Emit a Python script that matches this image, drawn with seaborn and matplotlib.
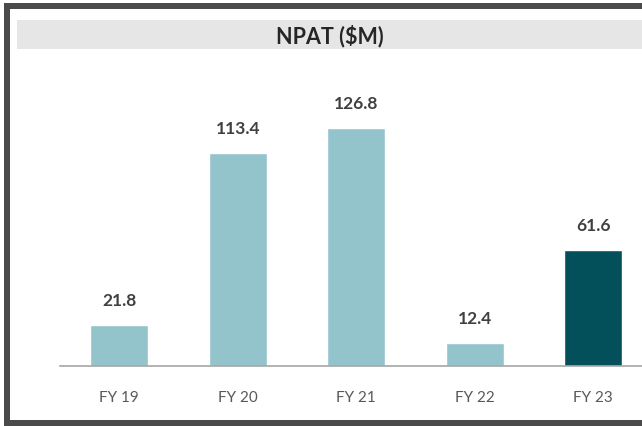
import matplotlib.pyplot as plt
import pandas as pd
import seaborn as sns
from matplotlib.patches import Rectangle

years = ['FY 19', 'FY 20', 'FY 21', 'FY 22', 'FY 23']
npat = [21.8, 113.4, 126.8, 12.4, 61.6]
bar_colors = ['#93C4CB', '#93C4CB', '#93C4CB', '#93C4CB', '#04505A']


def main() -> None:
    sns.set_style('white')
    plt.rcParams['font.family'] = ['Lato', 'DejaVu Sans']

    df = pd.DataFrame({'year': years, 'npat': npat})

    fig = plt.figure(figsize=(6.42, 4.27), dpi=100)
    fig.patch.set_facecolor('white')

    # frame around the panel (left, top, bottom)
    W, H = 642, 427
    frame = '#4A4A4A'
    fig.patches.append(Rectangle((4 / W, 0), 6 / W, 1 - 4 / H, transform=fig.transFigure,
                                 facecolor=frame, edgecolor='none', zorder=0))
    fig.patches.append(Rectangle((4 / W, 1 - 10 / H), 1, 6 / H, transform=fig.transFigure,
                                 facecolor=frame, edgecolor='none', zorder=0))
    fig.patches.append(Rectangle((4 / W, 0), 1, 6 / H, transform=fig.transFigure,
                                 facecolor=frame, edgecolor='none', zorder=0))

    # title bar
    fig.patches.append(Rectangle((17 / W, 1 - 50 / H), 1, 29 / H, transform=fig.transFigure,
                                 facecolor='#E6E6E6', edgecolor='none', zorder=0))
    fig.text(330 / W, 1 - 36 / H, 'NPAT ($M)', ha='center', va='center',
             fontsize=15.5, fontweight='bold', color='#262626')

    # axes: baseline at y=367, first bar centre at x=119, spacing ~118.5px
    ax = fig.add_axes([60 / W, 1 - 367 / H, 1 - 60 / W, (367 - 70) / H])
    ax.set_facecolor('none')
    sns.barplot(data=df, x='year', y='npat', hue='year', palette=bar_colors,
                width=0.49, legend=False, ax=ax, saturation=1)

    ax.set_xlim(-0.5, (642 - 119) / 118.5)
    ax.set_ylim(0, (367 - 70) / 1.877)

    for i, v in enumerate(npat):
        ax.annotate(f'{v:.1f}', (i, v), xytext=(0, 18), textcoords='offset points',
                    ha='center', va='center', fontsize=12.5, fontweight='bold', color='#404040')

    sns.despine(ax=ax, left=True, right=True, top=True)
    ax.spines['bottom'].set_color('#A6A6A6')
    ax.spines['bottom'].set_linewidth(1.2)
    ax.set(xlabel=None, ylabel=None, yticks=[])
    ax.tick_params(bottom=False, left=False, pad=14)
    for lbl in ax.get_xticklabels():
        lbl.set_fontsize(11)
        lbl.set_color('#595959')

    fig.savefig('out.png', dpi=100)


if __name__ == '__main__':
    main()
